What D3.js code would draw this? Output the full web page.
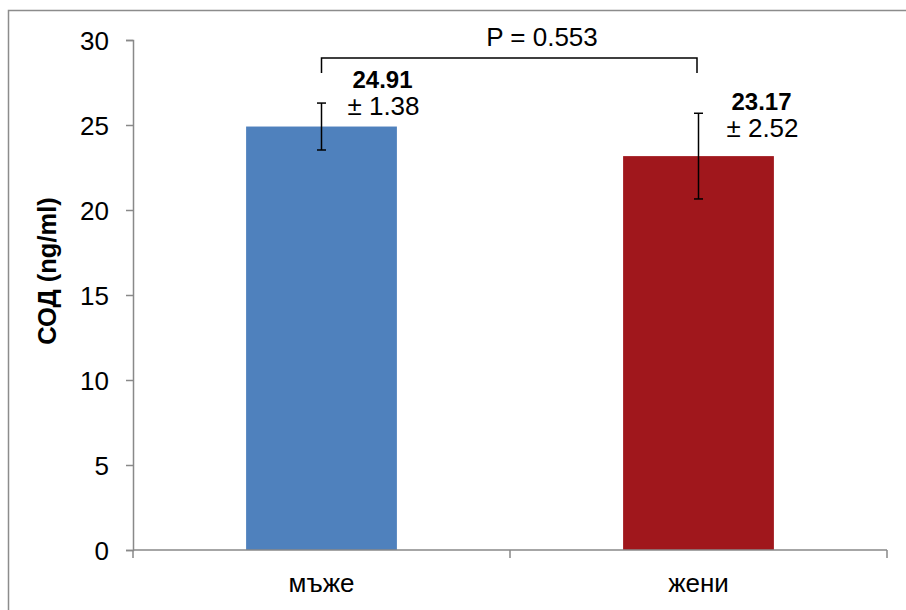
<!DOCTYPE html>
<html>
<head>
<meta charset="utf-8">
<script src="https://cdn.jsdelivr.net/npm/d3@7"></script>
<style>
  html, body { margin: 0; padding: 0; background: #fff; }
  svg { display: block; }
  text { font-family: "Liberation Sans", Arial, sans-serif; fill: #000; }
</style>
</head>
<body>
<svg id="chart" width="906" height="610"></svg>
<script>
// Mean SOD level by sex, with standard error
const categories = ["мъже", "жени"];
const means = [24.91, 23.17];
const errors = [1.38, 2.52];
const barColors = ["#4f81bd", "#a0171c"];
const yTicks = [0, 5, 10, 15, 20, 25, 30];
const yTitle = "СОД (ng/ml)";
const pLabel = "P = 0.553";

const svg = d3.select("#chart");
const margin = { left: 133, right: 19, top: 40, bottom: 60 };
const W = 906, H = 610;

// Outer frame (only left and top edges fall inside the canvas)
svg.append("rect")
  .attr("x", 8.5).attr("y", 10.5)
  .attr("width", 1200).attr("height", 1200)
  .attr("fill", "none").attr("stroke", "#8c8c8c").attr("stroke-width", 1.5);

const x = d3.scaleBand()
  .domain(categories)
  .range([margin.left, W - margin.right])
  .paddingInner(0.6).paddingOuter(0.3);

const y = d3.scaleLinear().domain([0, 30]).range([550, 40]);

const axisColor = "#898989";

// Y axis
const yAxis = svg.append("g")
  .attr("transform", `translate(${margin.left},0)`)
  .call(d3.axisLeft(y).tickValues(yTicks).tickSize(7).tickPadding(17));
yAxis.select(".domain").attr("stroke", axisColor).attr("stroke-width", 1.5);
yAxis.selectAll(".tick line").attr("stroke", axisColor).attr("stroke-width", 1.5);
yAxis.selectAll(".tick text")
  .style("font-family", "'Liberation Sans', Arial, sans-serif")
  .style("font-size", "26px").attr("fill", "#000").attr("dy", "0.35em");

// Bars
const bars = categories.map((c, i) => ({ c, m: means[i], e: errors[i], col: barColors[i] }));
svg.append("g").selectAll("rect").data(bars).join("rect")
  .attr("x", d => x(d.c))
  .attr("width", x.bandwidth())
  .attr("y", d => y(d.m))
  .attr("height", d => y(0) - y(d.m))
  .attr("fill", d => d.col);

// X axis: ticks at category boundaries
const x0 = margin.left, x1 = W - margin.right;
const xAxisG = svg.append("g");
xAxisG.append("line")
  .attr("x1", x0).attr("x2", x1).attr("y1", y(0)).attr("y2", y(0))
  .attr("stroke", axisColor).attr("stroke-width", 1.5);
const step = (x1 - x0) / categories.length;
d3.range(categories.length + 1).forEach(k => {
  xAxisG.append("line")
    .attr("x1", x0 + k * step).attr("x2", x0 + k * step)
    .attr("y1", y(0)).attr("y2", y(0) + 8)
    .attr("stroke", axisColor).attr("stroke-width", 1.5);
});
xAxisG.selectAll("text.cat").data(categories).join("text")
  .attr("class", "cat")
  .attr("x", d => x(d) + x.bandwidth() / 2)
  .attr("y", 592)
  .attr("text-anchor", "middle")
  .style("font-size", "26px")
  .text(d => d);

// Error bars
const cap = 4.5;
const eg = svg.append("g").attr("stroke", "#000").attr("stroke-width", 1.5);
bars.forEach(d => {
  const cx = x(d.c) + x.bandwidth() / 2;
  eg.append("line").attr("x1", cx).attr("x2", cx)
    .attr("y1", y(d.m - d.e)).attr("y2", y(d.m + d.e));
  eg.append("line").attr("x1", cx - cap).attr("x2", cx + cap)
    .attr("y1", y(d.m + d.e)).attr("y2", y(d.m + d.e));
  eg.append("line").attr("x1", cx - cap).attr("x2", cx + cap)
    .attr("y1", y(d.m - d.e)).attr("y2", y(d.m - d.e));
});

// Value labels (mean in bold, ± error below)
const labelOffsets = [{ dx: 61, y: 88 }, { dx: 63, y: 110 }];
bars.forEach((d, i) => {
  const cx = x(d.c) + x.bandwidth() / 2 + labelOffsets[i].dx;
  const t = svg.append("text").attr("text-anchor", "middle");
  t.append("tspan").attr("x", cx).attr("y", labelOffsets[i].y)
    .style("font-size", "24px")
    .style("font-weight", "bold").text(d.m.toFixed(2));
  t.append("tspan").attr("x", cx + 1).attr("y", labelOffsets[i].y + 27)
    .style("font-size", "26px")
    .text("± " + d.e.toFixed(2));
});

// Significance bracket
const bx1 = x(categories[0]) + x.bandwidth() / 2;
const bx2 = x(categories[1]) + x.bandwidth() / 2 - 1.5;
svg.append("path")
  .attr("d", `M${bx1},73 V58 H${bx2} V73`)
  .attr("fill", "none").attr("stroke", "#000").attr("stroke-width", 1.5);
svg.append("text")
  .attr("x", 542).attr("y", 46)
  .attr("text-anchor", "middle")
  .style("font-size", "26px")
  .text(pLabel);

// Y axis title
svg.append("text")
  .attr("transform", `translate(56,271) rotate(-90)`)
  .attr("text-anchor", "middle")
  .style("font-size", "25.5px").style("font-weight", "bold")
  .text(yTitle);
</script>
</body>
</html>
